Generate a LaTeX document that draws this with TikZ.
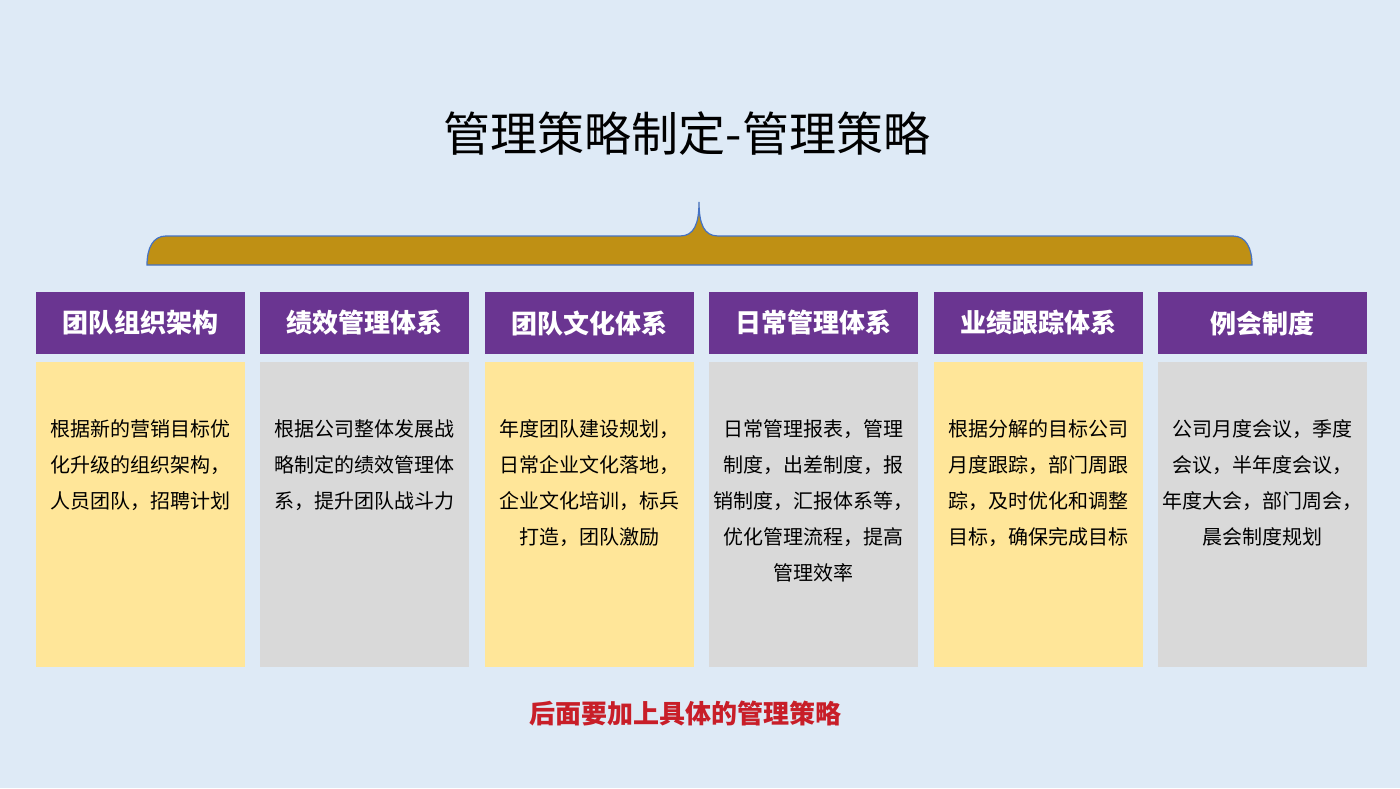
\documentclass[tikz,border=0pt]{standalone}
\usepackage{fontspec}
\setmainfont{Noto Sans CJK SC}
\usepackage{xcolor}
\usepackage{tikz}
\usetikzlibrary{positioning}
\definecolor{bgblue}{RGB}{222,234,246}
\definecolor{headpurple}{RGB}{106,53,145}
\definecolor{boxyellow}{RGB}{255,230,153}
\definecolor{boxgray}{RGB}{217,217,217}
\definecolor{bracegold}{RGB}{191,144,20}
\definecolor{braceline}{RGB}{68,114,196}
\definecolor{noteRed}{RGB}{200,30,40}
\tikzstyle{head} = [rectangle, sharp corners, fill=headpurple, text=white,
                    minimum width=104.5pt, minimum height=31pt, inner sep=0pt,
                    font=\fontsize{13}{13}\selectfont\bfseries]
\tikzstyle{card} = [rectangle, sharp corners, minimum width=104.5pt,
                    minimum height=152.5pt, inner sep=0pt]
\tikzstyle{cardtext} = [anchor=north, align=center, inner sep=0pt,
                    font=\fontsize{10}{18}\selectfont]

\begin{document}
\begin{tikzpicture}[x=0.5pt, y=-0.5pt]
\useasboundingbox (0,0) rectangle (1400,788);
\fill[bgblue] (0,0) rectangle (1400,788);

%Title
\node (title) at (687,134) {\fontsize{23.5}{23.5}\selectfont 管理策略制定-管理策略};

%Brace
\draw[draw=braceline, line width=0.6pt, fill=bracegold]
  (147,265) .. controls (147,248) and (153,236) .. (166,236)
  -- (680,236) .. controls (694,236) and (699,224) .. (699,202)
  .. controls (699,224) and (704,236) .. (718,236)
  -- (1233,236) .. controls (1246,236) and (1252,248) .. (1252,265) -- cycle;

%Headers
\node[head] (h1) at (140.5,323) {团队组织架构};
\node[head] (h2) at (364.5,323) {绩效管理体系};
\node[head] (h3) at (589.5,323) {团队文化体系};
\node[head] (h4) at (813.5,323) {日常管理体系};
\node[head] (h5) at (1038.5,323) {业绩跟踪体系};
\node[head] (h6) at (1262.5,323) {例会制度};

%Cards
\node[card, fill=boxyellow] (c1) at (140.5,514.5) {};
\node[card, fill=boxgray]   (c2) at (364.5,514.5) {};
\node[card, fill=boxyellow] (c3) at (589.5,514.5) {};
\node[card, fill=boxgray]   (c4) at (813.5,514.5) {};
\node[card, fill=boxyellow] (c5) at (1038.5,514.5) {};
\node[card, fill=boxgray]   (c6) at (1262.5,514.5) {};

\node[cardtext] (t1) at ([yshift=-29pt]c1.north) {根据新的营销目标优\\化升级的组织架构，\\人员团队，招聘计划};
\node[cardtext] (t2) at ([yshift=-29pt]c2.north) {根据公司整体发展战\\略制定的绩效管理体\\系，提升团队战斗力};
\node[cardtext] (t3) at ([yshift=-29pt]c3.north) {年度团队建设规划，\\日常企业文化落地，\\企业文化培训，标兵\\打造，团队激励};
\node[cardtext] (t4) at ([yshift=-29pt]c4.north) {日常管理报表，管理\\制度，出差制度，报\\销制度，汇报体系等，\\优化管理流程，提高\\管理效率};
\node[cardtext] (t5) at ([yshift=-29pt]c5.north) {根据分解的目标公司\\月度跟踪，部门周跟\\踪，及时优化和调整\\目标，确保完成目标};
\node[cardtext] (t6) at ([yshift=-29pt]c6.north) {公司月度会议，季度\\会议，半年度会议，\\年度大会，部门周会，\\晨会制度规划};

%Note
\node[text=noteRed] (note) at (685,714) {\fontsize{13}{13}\selectfont\bfseries 后面要加上具体的管理策略};

\end{tikzpicture}
\end{document}
